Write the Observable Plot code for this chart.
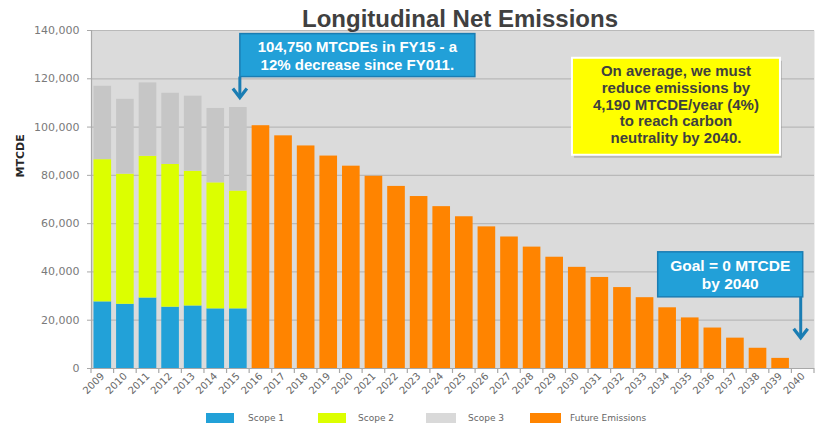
<!DOCTYPE html>
<html><head><meta charset="utf-8">
<script src="https://cdn.jsdelivr.net/npm/d3@7"></script>
<script src="https://cdn.jsdelivr.net/npm/@observablehq/plot@0.6"></script>
<style>
body{margin:0;background:#fff;}
#wrap{position:relative;width:816px;height:425px;overflow:hidden;}
#title{position:relative;height:29px;}
#title span{position:absolute;left:0;width:920px;top:7px;text-align:center;font:bold 24px/24px "Liberation Sans",Arial,sans-serif;color:#404040;white-space:nowrap;}
#chart svg{display:block;}
#legend{position:relative;height:20px;font-family:"DejaVu Sans",sans-serif;font-size:9px;color:#666;}
#legend .sw{position:absolute;top:8px;height:10px;}
#legend .lb{position:absolute;top:7px;line-height:12px;white-space:nowrap;}
</style>
</head><body>
<div id="wrap">
  <div id="title"><span>Longitudinal Net Emissions</span></div>
  <div id="chart"></div>
  <div id="legend"></div>
</div>
<script>
// ---------- data ----------
const years = ["2009","2010","2011","2012","2013","2014","2015","2016","2017","2018","2019","2020",
  "2021","2022","2023","2024","2025","2026","2027","2028","2029","2030","2031","2032","2033","2034",
  "2035","2036","2037","2038","2039","2040"];
const histYears = ["2009","2010","2011","2012","2013","2014","2015"];
const scope1 = [27600, 26600, 29200, 25400, 25900, 24700, 24700];
const scope2 = [58900, 53900, 58700, 59100, 55800, 52200, 48800];
const scope3 = [30400, 31000, 30400, 29500, 31100, 30800, 34600];
const futureYears = ["2016","2017","2018","2019","2020","2021","2022","2023","2024","2025","2026","2027",
  "2028","2029","2030","2031","2032","2033","2034","2035","2036","2037","2038","2039","2040"];
const futureEmissions = [100560, 96370, 92180, 87990, 83800, 79610, 75420, 71230, 67040, 62850, 58660, 54470,
  50280, 46090, 41900, 37710, 33520, 29330, 25140, 20950, 16760, 12570, 8380, 4190, 0];
const seriesNames = ["Scope 1","Scope 2","Scope 3","Future Emissions"];
const seriesColors = ["#22a1d8","#dcff00","#c6c6c6","#ff8400"];
const legendColors = ["#22a1d8","#dcff00","#d9d9d9","#ff8400"];
const yTicks = [0,20000,40000,60000,80000,100000,120000,140000];
const titleText = "Longitudinal Net Emissions";
const yLabel = "MTCDE";
const callout1 = ["104,750 MTCDEs in FY15 - a","12% decrease since FY011."];
const callout2 = ["Goal = 0 MTCDE","by 2040"];
const noteLines = ["On average, we must","reduce emissions by","4,190 MTCDE/year (4%)","to reach carbon","neutrality by 2040."];

// ---------- table ----------
const rows = [];
histYears.forEach((yr,i)=>{
  rows.push({year:yr, series:"Scope 1", value:scope1[i]});
  rows.push({year:yr, series:"Scope 2", value:scope2[i]});
  rows.push({year:yr, series:"Scope 3", value:scope3[i]});
});
futureYears.forEach((yr,i)=> rows.push({year:yr, series:"Future Emissions", value:futureEmissions[i]}));

const chart = Plot.plot({
  width: 816, height: 376,
  marginTop: 1, marginBottom: 37, marginLeft: 91, marginRight: 2,
  style: {fontFamily: "DejaVu Sans, sans-serif", background: "transparent", overflow: "visible"},
  x: {type: "band", domain: years, paddingInner: 0.22, paddingOuter: 0.11, round: false, label: null},
  y: {domain: [0, 140000], label: null},
  color: {domain: seriesNames, range: seriesColors},
  marks: [
    Plot.frame({fill: "#dbdbdb", stroke: "none"}),
    Plot.ruleY(yTicks.slice(1), {stroke: "#b9b9b9", strokeWidth: 1.2}),
    Plot.barY(rows, {x: "year", y: "value", fill: "series", inset: 0}),
    Plot.ruleY([0], {stroke: "#a8a8a8", strokeWidth: 1.2}),
    Plot.frame({anchor: "left", stroke: "#a8a8a8", strokeWidth: 1.2}),
    Plot.axisY({ticks: yTicks, tickFormat: d3.format(","), tickSize: 4, tickPadding: 8,
      fontSize: 11, fill: "#7a7a7a", stroke: "#a8a8a8", label: null}),
    Plot.axisX({tickRotate: -45, tickSize: 0, tickPadding: 6, fontSize: 10, textAnchor: "end",
      fill: "#666", label: null}),
    Plot.text([yLabel], {frameAnchor: "left", dx: -71, dy: -22, rotate: -90, fontWeight: "bold",
      fontSize: 11, fill: "#262626"})
  ]
});
document.getElementById("chart").appendChild(chart);

// ---------- annotations placed through the scales ----------
const sx = chart.scale("x"), sy = chart.scale("y");
const bw = sx.bandwidth, step = sx.step;
const gap = (step - bw) / 2;
const svg = d3.select(chart);
const y0 = sy.apply(0);
const tg = svg.append("g").attr("stroke", "#a8a8a8").attr("stroke-width", 1.2);
years.forEach(yr => {
  const bx = sx.apply(yr) - gap;
  tg.append("line").attr("x1", bx).attr("x2", bx).attr("y1", y0).attr("y2", y0 + 5);
});
{
  const bx = sx.apply(years[years.length-1]) + bw + gap;
  tg.append("line").attr("x1", bx).attr("x2", bx).attr("y1", y0).attr("y2", y0 + 5);
}

const ag = svg.append("g").attr("font-family", "Liberation Sans, Arial, sans-serif").attr("font-weight", "bold");
function arrow(x, yTop, yTip) {
  ag.append("line").attr("x1", x).attr("x2", x).attr("y1", yTop).attr("y2", yTip - 1)
    .attr("stroke", "#1a7db3").attr("stroke-width", 3);
  ag.append("path").attr("d", `M${x-7},${yTip-9}L${x},${yTip}L${x+7},${yTip-9}`)
    .attr("fill", "none").attr("stroke", "#1a7db3").attr("stroke-width", 3.2);
}
function box(x, y, w, h, fill, stroke, sw) {
  ag.append("rect").attr("x", x).attr("y", y).attr("width", w).attr("height", h)
    .attr("fill", fill).attr("stroke", stroke).attr("stroke-width", sw);
}
function lines(cx, yFirst, dy, arr, fill, size) {
  arr.forEach((t, i) => ag.append("text").attr("x", cx).attr("y", yFirst + i*dy)
    .attr("text-anchor", "middle").attr("fill", fill).attr("font-size", size).text(t));
}

// callout 1 (FY15)
{
  const tipX = sx.apply("2015") + bw/2 + 2, tipY = sy.apply(112000);
  const bx = tipX, by = tipY - 64, w = 235, h = 43;
  arrow(tipX, by + h, tipY);
  box(bx, by, w, h, "#22a0d8", "#1a7db3", 1.5);
  lines(bx + w/2, by + 18, 18.3, callout1, "#ffffff", 15);
}
// callout 2 (goal)
{
  const tipX = sx.apply("2040") + bw/2 - 2, tipY = sy.apply(12500);
  const w = 145, h = 45, bx = tipX - w + 2, by = tipY - 86;
  arrow(tipX, by + h, tipY);
  box(bx, by, w, h, "#22a0d8", "#1a7db3", 1.5);
  lines(bx + w/2, by + 18.7, 18.3, callout2, "#ffffff", 15.5);
}
// yellow note
{
  const bx = sx.apply("2030") + 4, by = sy.apply(128500), w = 208, h = 97;
  ag.append("rect").attr("x", bx + 2).attr("y", by + 3).attr("width", w).attr("height", h)
    .attr("fill", "#8c8c8c").attr("opacity", 0.45);
  box(bx, by, w, h, "#ffff00", "#ffffff", 2);
  lines(bx + w/2, by + 18.7, 16.6, noteLines, "#3f3f3f", 15);
}

// ---------- legend ----------
const legendLayout = [[206, 28, 248], [318, 28, 358], [426, 30, 468], [530, 31, 570]];
const lg = d3.select("#legend");
seriesNames.forEach((n, i) => {
  const [l, w, tl] = legendLayout[i];
  lg.append("div").attr("class", "sw").style("left", l + "px").style("width", w + "px").style("background", legendColors[i]);
  lg.append("div").attr("class", "lb").style("left", tl + "px").text(n);
});
</script>
</body></html>
